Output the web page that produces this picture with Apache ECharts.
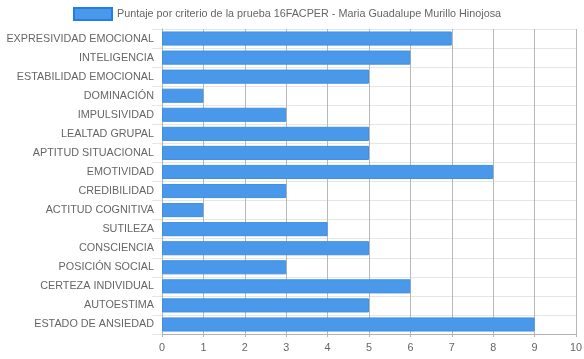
<!DOCTYPE html>
<html><head><meta charset="utf-8">
<script src="https://cdn.jsdelivr.net/npm/echarts@6/dist/echarts.min.js"></script>
<style>html,body{margin:0;padding:0;background:#fff}#c{width:584px;height:359px}</style>
</head><body><div id="c"></div>
<script>
const categories = ["EXPRESIVIDAD EMOCIONAL","INTELIGENCIA","ESTABILIDAD EMOCIONAL","DOMINACIÓN","IMPULSIVIDAD","LEALTAD GRUPAL","APTITUD SITUACIONAL","EMOTIVIDAD","CREDIBILIDAD","ACTITUD COGNITIVA","SUTILEZA","CONSCIENCIA","POSICIÓN SOCIAL","CERTEZA INDIVIDUAL","AUTOESTIMA","ESTADO DE ANSIEDAD"];
const values = [7,6,5,1,3,5,5,8,3,1,4,5,3,6,5,9];
const seriesName = "Puntaje por criterio de la prueba 16FACPER - Maria Guadalupe Murillo Hinojosa";
const font = "'Liberation Sans', Arial, Helvetica, sans-serif";
const chart = echarts.init(document.getElementById('c'));
chart.setOption({
  animation:false,
  legend:{top:2,left:68,itemWidth:38,itemHeight:12,itemGap:10,
    textStyle:{color:'#666',fontSize:10.8,fontFamily:font},
    data:[{name:seriesName,icon:'rect',itemStyle:{color:'#4a98ea',borderColor:'#1f7fe6',borderWidth:2}}]},
  grid:{left:162,right:8,top:29,bottom:25,containLabel:false,outerBoundsMode:'none'},
  xAxis:{type:'value',min:0,max:10,interval:1,
    axisLine:{show:true,lineStyle:{color:'#b3b3b3'}},
    axisTick:{show:true,length:3,lineStyle:{color:'#b3b3b3'}},
    axisLabel:{color:'#666',fontSize:10.8,fontFamily:font,margin:9},
    splitLine:{show:true,lineStyle:{color:'#b8b8b8'}}},
  yAxis:{type:'category',data:categories,inverse:true,
    axisLine:{show:true,lineStyle:{color:'#b3b3b3'}},
    axisTick:{show:true,length:10,lineStyle:{color:'#e6e6e6'}},
    axisLabel:{color:'#666',fontSize:10.8,fontFamily:font,margin:8},
    splitLine:{show:true,lineStyle:{color:'#e6e6e6'}}},
  series:[{name:seriesName,type:'bar',data:values,barWidth:'74%',
    itemStyle:{color:'#4a98ea',borderColor:'#3f90e4',borderWidth:1}}]
});
</script></body></html>
